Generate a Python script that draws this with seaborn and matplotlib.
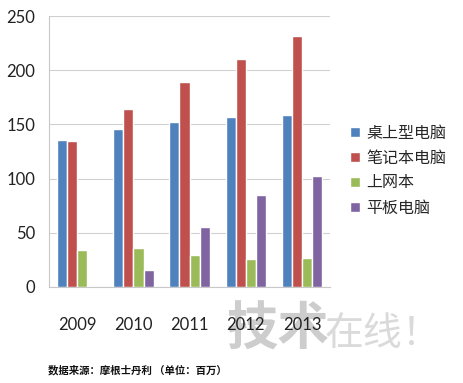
import pandas as pd
import seaborn as sns
import matplotlib.pyplot as plt
from matplotlib.ticker import FixedLocator

years = ['2009', '2010', '2011', '2012', '2013']
series = ['桌上型电脑', '笔记本电脑', '上网本', '平板电脑']
desktop = [136, 146, 152, 157, 159]
notebook = [135, 164, 189, 210, 232]
netbook = [34, 36, 29, 26, 27]
tablet = [0, 16, 55, 85, 102]
colors = ['#4F81BD', '#C0504D', '#9BBB59', '#8064A2']

# long form table for seaborn
rows = []
for name, vals in zip(series, [desktop, notebook, netbook, tablet]):
    for y, v in zip(years, vals):
        rows.append({'year': y, 'type': name, 'value': v})
df = pd.DataFrame(rows)

sns.set_theme(style='white')
plt.rcParams['font.family'] = ['Lato', 'Noto Sans CJK SC', 'DejaVu Sans']

fig = plt.figure(figsize=(4.63, 3.83), dpi=100)
ax = fig.add_axes([0.106, 0.251, 0.607, 0.707])
ax.set_zorder(1)
ax.patch.set_alpha(0)

sns.barplot(data=df, x='year', y='value', hue='type', palette=colors,
            saturation=1, width=0.72, ax=ax, zorder=3)

ax.set_ylim(0, 250)
ax.set_yticks([0, 50, 100, 150, 200, 250])
ax.set_xlim(-0.5, 4.5)
ax.set_xlabel('')
ax.set_ylabel('')
ax.grid(axis='y', color='#d0d0d0', linewidth=0.8, zorder=0)
for s in ['top', 'right']:
    ax.spines[s].set_visible(False)
for s in ['left', 'bottom']:
    ax.spines[s].set_color('#c8c8c8')
    ax.spines[s].set_linewidth(0.8)

ax.tick_params(axis='y', labelsize=12, length=0, pad=10, colors='#222222')
ax.tick_params(axis='x', which='major', labelsize=12, length=0, pad=22,
               colors='#222222')
ax.xaxis.set_minor_locator(FixedLocator([-0.5, 0.5, 1.5, 2.5, 3.5, 4.5]))
ax.tick_params(axis='x', which='minor', length=4, color='#c8c8c8', width=0.8)

ax.legend(loc='center left', bbox_to_anchor=(1.02, 0.43), frameon=False,
          handlelength=0.6, handleheight=0.6, handletextpad=0.4,
          labelspacing=0.5, prop={'family': 'Noto Sans CJK SC', 'size': 11.5})

# watermark, behind the axes so the year labels stay readable
fig.text(0.49, 0.10, '技术', fontsize=37, color='#c8c8c8', weight='bold',
         family='Noto Sans CJK SC', zorder=0, alpha=0.9)
fig.text(0.70, 0.10, '在线！', fontsize=28, color='#d6d6d6',
         family='Noto Sans CJK SC', zorder=0, alpha=0.9)

fig.text(0.104, 0.025, '数据来源：摩根士丹利 （单位：百万）', fontsize=7.5,
         weight='bold', family='Noto Sans CJK SC', color='#111111')

fig.savefig('out.png', dpi=100)
